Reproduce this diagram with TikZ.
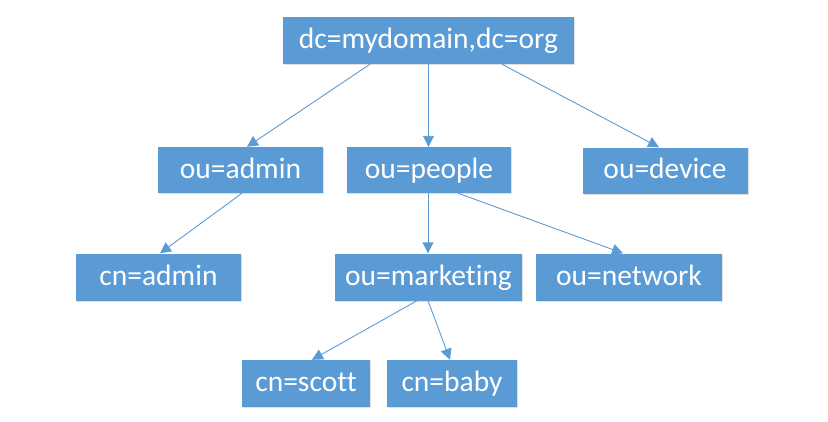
\documentclass[tikz,border=0pt]{standalone}
\usepackage{fontspec}
\setmainfont[Ligatures=NoCommon]{Carlito}
\usetikzlibrary{arrows.meta,shadows,calc}
\definecolor{officeblue}{HTML}{5B9BD5}
\definecolor{lineblue}{HTML}{5B9BD5}
\tikzset{
  box/.style={draw=none, fill=officeblue, text=white, inner sep=0pt,
    font=\fontsize{29.5}{34}\selectfont, text height=19.5pt, text depth=3.5pt,
    drop shadow={shadow xshift=1.2pt, shadow yshift=-1.2pt, opacity=0.25, fill=black!50}},
  arr/.style={draw=lineblue, line width=0.9pt, -{Triangle[length=11pt,width=11pt]}}
}
\begin{document}
\begin{tikzpicture}[x=1pt,y=-1pt]
\useasboundingbox (0,0) rectangle (828,421);
\node[box, minimum width=291pt, minimum height=47pt] (root) at (428.5,40.5) {dc=mydomain,dc=org};
\node[box, minimum width=165pt, minimum height=46pt] (admin) at (240.5,170) {ou=admin};
\node[box, minimum width=164pt, minimum height=46pt] (people) at (429,170) {ou=people};
\node[box, minimum width=165pt, minimum height=46pt] (device) at (665,170.5) {ou=device};
\node[box, minimum width=165pt, minimum height=47pt] (cnadmin) at (158.5,277) {cn=admin};
\node[box, minimum width=187pt, minimum height=47pt] (marketing) at (428.5,277) {ou=marketing};
\node[box, minimum width=186pt, minimum height=47pt] (network) at (629,277) {ou=network};
\node[box, minimum width=128pt, minimum height=47pt] (scott) at (306,383.5) {cn=scott};
\node[box, minimum width=130pt, minimum height=47pt] (baby) at (452,383.5) {cn=baby};

\draw[arr] ([xshift=-58.5pt]root.south) -- ([xshift=6.5pt]admin.north);
\draw[arr] (root.south) -- (root.south |- people.north);
\draw[arr] ([xshift=73.5pt]root.south) -- ([xshift=-6pt]device.north);
\draw[arr] ([xshift=1.5pt]admin.south) -- ([xshift=1.5pt]cnadmin.north);
\draw[arr] ([xshift=-1pt]people.south) -- ([xshift=-0.5pt]marketing.north);
\draw[arr] ([xshift=29pt]people.south) -- ([xshift=-6pt]network.north);
\draw[arr] ([xshift=-11.5pt]marketing.south) -- ([xshift=6pt]scott.north);
\draw[arr] ([xshift=-0.5pt]marketing.south) -- ([xshift=-2pt]baby.north);
\end{tikzpicture}
\end{document}
